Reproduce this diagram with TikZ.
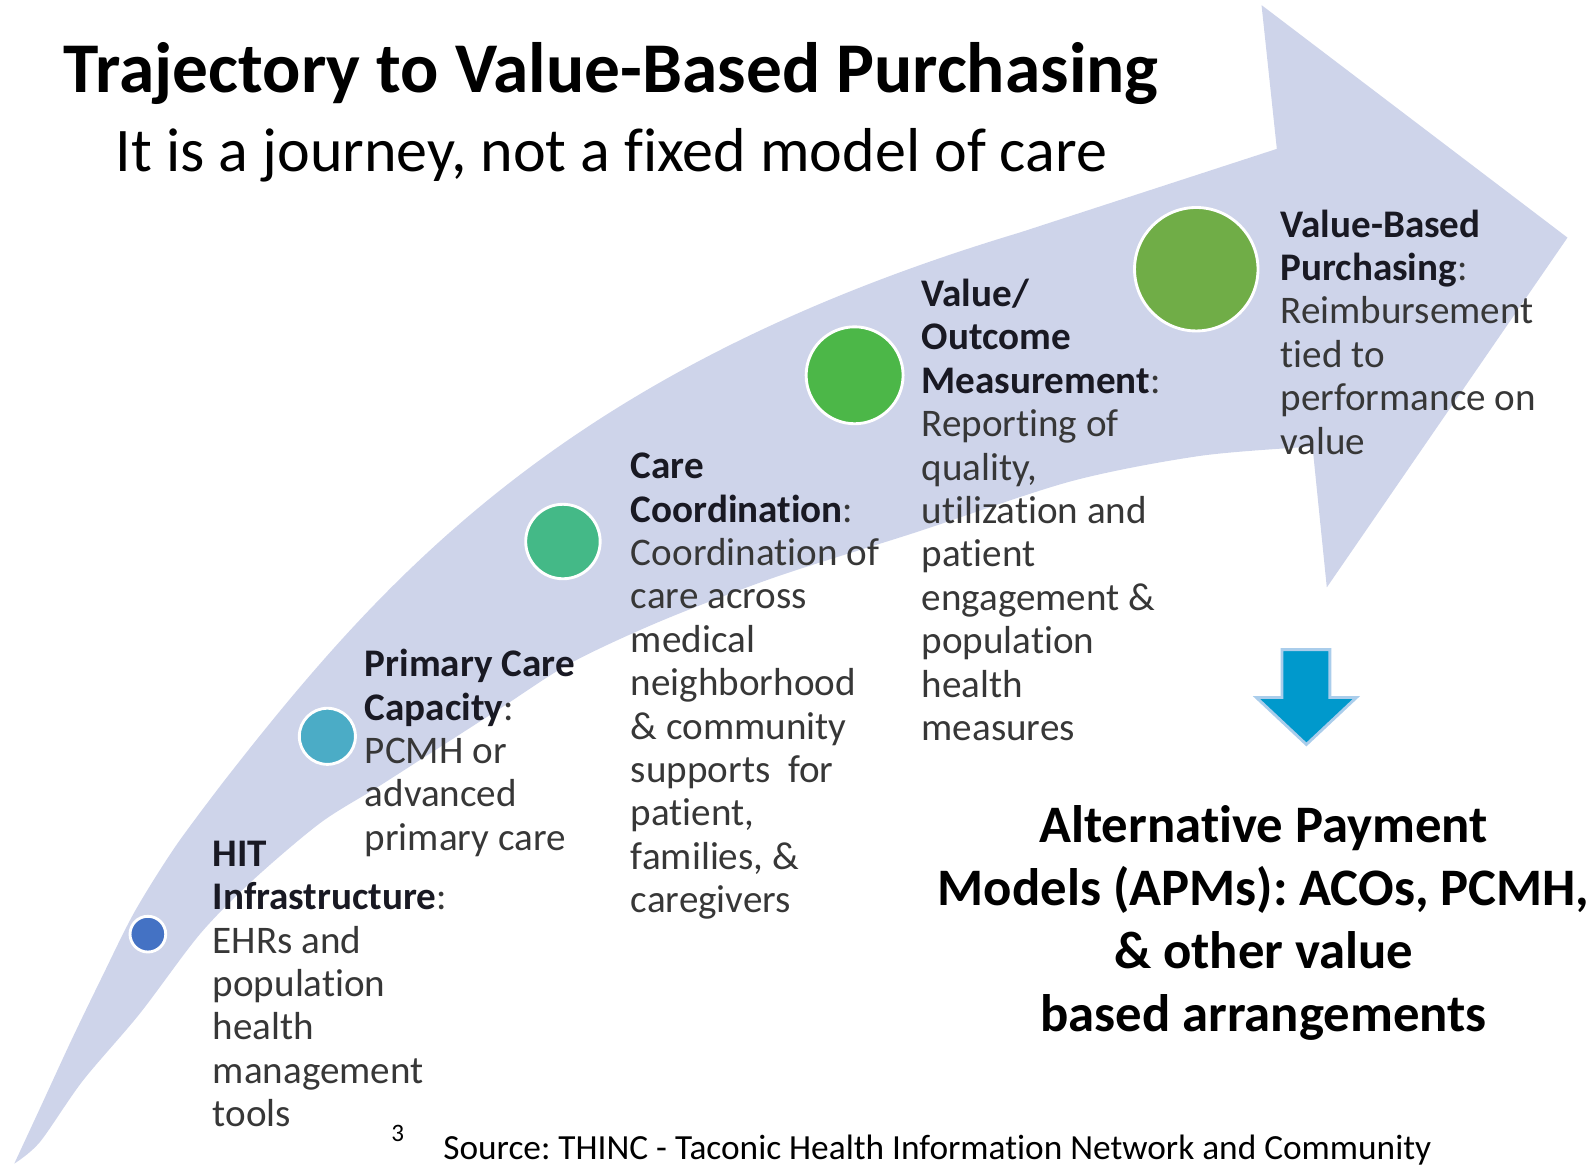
\documentclass[tikz,border=0pt]{standalone}
\usepackage{fontspec}
\setmainfont[Ligatures=NoCommon]{Carlito}
\usetikzlibrary{positioning}

\definecolor{bandc}{RGB}{206,212,234}
\definecolor{hitc}{RGB}{68,114,196}
\definecolor{pccc}{RGB}{75,172,198}
\definecolor{ccc}{RGB}{68,185,135}
\definecolor{vomc}{RGB}{76,183,72}
\definecolor{vbpc}{RGB}{112,173,71}
\definecolor{apmc}{RGB}{0,153,204}
\definecolor{apmbord}{RGB}{170,205,235}
\definecolor{bodyc}{RGB}{55,55,55}
\definecolor{headc}{RGB}{25,25,35}

\newcommand{\hd}[1]{{\color{headc}\textbf{#1}}}
\frenchspacing

\begin{document}
\begin{tikzpicture}[x=0.01cm, y=-0.01cm,
  dot/.style={circle, draw=white, line width=0.8pt, inner sep=0pt},
  stage/.style={align=left, anchor=north west, inner sep=0pt, text=bodyc,
    font=\fontsize{10.9}{12.1}\selectfont}]

\useasboundingbox (0,0) rectangle (1564,1143);

% freccia curva
\fill[bandc] plot[smooth] coordinates {(14,1141) (40,1085) (70,1020) (100,958) (132,894)
    (172,830) (218,768)} .. controls (380,560) and (560,360) .. (1000,228) -- (1252,146)
  -- (1237,5) -- (1537,233) -- (1301,576) -- (1287,438)
  -- plot[smooth] coordinates {(1287,438) (1177,447) (1050,472) (898,522) (760,566)
    (648,609) (560,650) (490,695) (423,738) (370,772) (314,807) (248,863) (196,916)
    (137,994) (81,1060) (39,1120) (14,1141)} -- cycle;

% titoli
\node[anchor=base west, inner sep=0pt, font=\fontsize{19.9}{24}\selectfont\bfseries] (title) at (62,91) {Trajectory to Value-Based Purchasing};
\node[anchor=base west, inner sep=0pt, font=\fontsize{17.3}{20}\selectfont] (subtitle) at (113,168) {It is a journey, not a fixed model of care};

% tappe
\node[dot, fill=hitc, minimum size=0.35cm] (hit) at (145,916) {};
\node[dot, fill=pccc, minimum size=0.55cm] (pcc) at (321,722) {};
\node[dot, fill=ccc, minimum size=0.73cm] (cc) at (552,531) {};
\node[dot, fill=vomc, minimum size=0.95cm] (vom) at (838,368) {};
\node[dot, fill=vbpc, minimum size=1.21cm] (vbp) at (1173,264) {};

\node[stage] (hittxt) at (208,819) {\strut\hd{HIT}\\\hd{Infrastructure}:\\EHRs and\\population\\health\\management\\tools};
\node[stage] (pcctxt) at (357,633) {\strut\hd{Primary Care}\\\hd{Capacity}:\\PCMH or\\advanced\\primary care};
\node[stage] (cctxt) at (618,439) {\strut\hd{Care}\\\hd{Coordination}:\\Coordination of\\care across\\medical\\neighborhood\\\& community\\supports\ \ for\\patient,\\families, \&\\caregivers};
\node[stage] (vomtxt) at (903,270) {\strut\hd{Value/}\\\hd{Outcome}\\\hd{Measurement}:\\Reporting of\\quality,\\utilization and\\patient\\engagement \&\\population\\health\\measures};
\node[stage] (vbptxt) at (1255,202) {\strut\hd{Value-Based}\\\hd{Purchasing}:\\Reimbursement\\tied to\\performance on\\value};

% freccia in basso
\fill[apmc, draw=apmbord, line width=0.8pt] (1257,637) -- (1304,637) -- (1304,684) -- (1330,684)
  -- (1281,730) -- (1232,684) -- (1257,684) -- cycle;

\node[anchor=north, align=center, inner sep=0pt, font=\fontsize{14.7}{17.6}\selectfont\bfseries] (apm) at (1239,782)
  {\strut Alternative Payment\\Models (APMs): ACOs, PCMH,\\\& other value\\based arrangements};

% fonte
\node[anchor=base west, inner sep=0pt, font=\fontsize{7}{8}\selectfont] (page) at (383,1119) {3};
\node[anchor=base west, inner sep=0pt, font=\fontsize{9.85}{12}\selectfont] (source) at (434,1137) {Source: THINC - Taconic Health Information Network and Community};

\end{tikzpicture}
\end{document}
